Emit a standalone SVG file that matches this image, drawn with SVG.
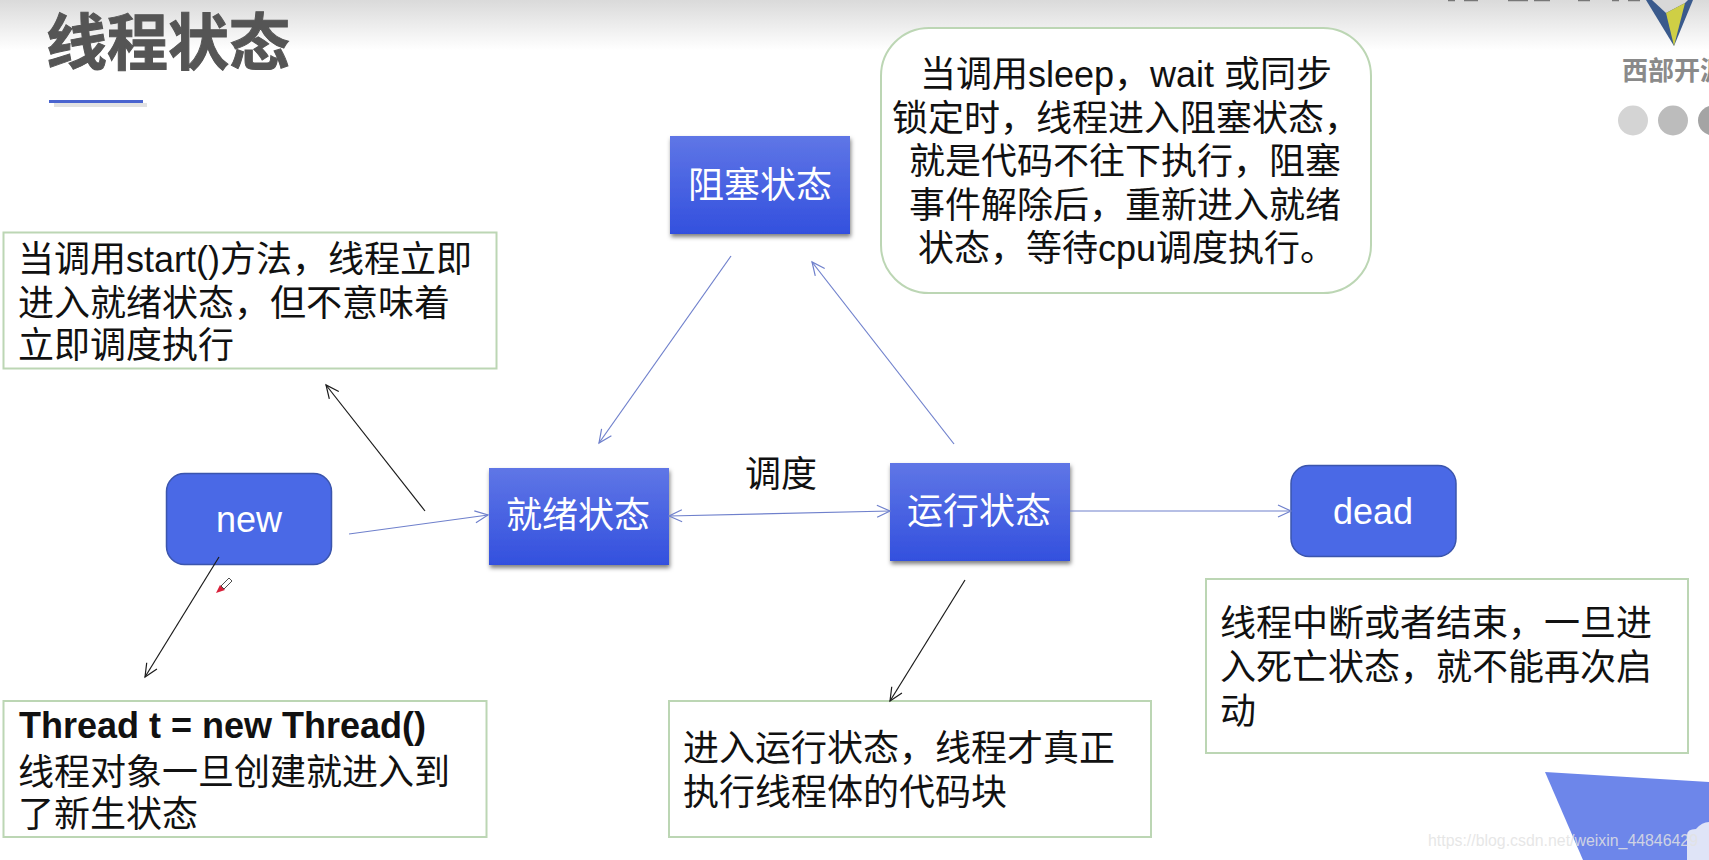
<svg xmlns="http://www.w3.org/2000/svg" width="1709" height="860" viewBox="0 0 1709 860">
<style>
text{font-family:"Liberation Sans","Noto Sans CJK SC",sans-serif}
.t{font-size:36px;fill:#111}
.n{font-size:36px;fill:#fff;text-anchor:middle}
.box{fill:#fff;stroke:#bcd6b4;stroke-width:2}
.rect{fill:url(#g);filter:url(#s)}
.round{fill:#4a69e6;stroke:#3b55ad;stroke-width:1.5}
.b{fill:none;stroke:#6f80cc;stroke-width:1.2;marker-end:url(#mb)}
.k{fill:none;stroke:#1a1a1a;stroke-width:1.2;marker-end:url(#mk)}
</style>
<defs>
<linearGradient id="top" x1="0" y1="0" x2="0" y2="1"><stop offset="0" stop-color="#dadada"/><stop offset="1" stop-color="#fff"/></linearGradient>
<linearGradient id="g" x1="0" y1="0" x2="0" y2="1"><stop offset="0" stop-color="#5f76e6"/><stop offset="1" stop-color="#3350de"/></linearGradient>
<filter id="s" x="-10%" y="-10%" width="120%" height="125%"><feDropShadow dx="1" dy="3" stdDeviation="2" flood-color="#000" flood-opacity=".5"/></filter>
<marker id="mb" markerWidth="16" markerHeight="16" refX="14" refY="7" orient="auto-start-reverse" markerUnits="userSpaceOnUse"><path d="M1 1L14 7L1 13" fill="none" stroke="#6f80cc" stroke-width="1.2"/></marker>
<marker id="mk" markerWidth="16" markerHeight="16" refX="14" refY="7" orient="auto" markerUnits="userSpaceOnUse"><path d="M1 1L14 7L1 13" fill="none" stroke="#1a1a1a" stroke-width="1.2"/></marker>
</defs>
<rect width="1709" height="860" fill="#fff"/>
<rect width="1709" height="50" fill="url(#top)"/>
<g id="logo">
<path d="M1448,0.500H1640" stroke="#777" stroke-width="1.500" stroke-dasharray="7 9 14 30 20 6 16 28 12 22" fill="none"/>
<polygon points="1646,0 1693,0 1674,46" fill="#3a5a8c"/>
<polygon points="1652,0 1666,13 1685,3 1688,0" fill="#d8d8d8"/>
<polygon points="1666,13 1685,3 1674,46" fill="#cfcf45"/>
<text x="1622" y="80" font-size="26" font-weight="700" fill="#8a8a8a">西部开源</text>
<circle cx="1633" cy="120.500" r="15" fill="#d4d4d4"/>
<circle cx="1673" cy="120.500" r="15" fill="#bcbcbc"/>
<circle cx="1713" cy="120.500" r="15" fill="#a4a4a4"/>
</g>
<g id="title">
<text x="46" y="65" font-size="61" font-weight="700" fill="#555" stroke="#555" stroke-width="1">线程状态</text>
<rect x="49" y="100" width="94" height="3" fill="#4a64cf"/>
<rect x="54" y="103" width="93" height="4" fill="#e2e2e2"/>
</g>
<g id="deco">
<polygon points="1545,772 1709,782 1709,860 1583,860" fill="#6d86ea"/>
<path d="M1687,860V835Q1687,829 1696,829Q1702,822 1709,822V860Z" fill="#dfe4f7"/>
</g>
<g id="node-blocked"><rect class="rect" x="670" y="136" width="180" height="98"/><text class="n" x="760" y="198">阻塞状态</text></g>
<g id="node-ready"><rect class="rect" x="489" y="468" width="180" height="97"/><text class="n" x="578" y="528">就绪状态</text></g>
<g id="node-running"><rect class="rect" x="890" y="463" width="180" height="98"/><text class="n" x="979" y="524">运行状态</text></g>
<g id="node-new"><rect class="round" x="166.500" y="473.500" width="165" height="91" rx="18"/><text class="n" x="249" y="532">new</text></g>
<g id="node-dead"><rect class="round" x="1291" y="465.500" width="165" height="91" rx="18"/><text class="n" x="1373" y="524">dead</text></g>
<g id="label-schedule"><text class="t" x="745" y="487">调度</text></g>
<g id="note-start"><rect class="box" x="3.500" y="232.500" width="493" height="136"/>
<text class="t" x="18" y="272">当调用start()方法，线程立即</text><text class="t" x="18" y="316">进入就绪状态，但不意味着</text><text class="t" x="18" y="358">立即调度执行</text></g>
<g id="note-new"><rect class="box" x="3.500" y="701" width="483" height="136"/>
<text class="t" x="19" y="738" font-weight="700">Thread t = new Thread()</text><text class="t" x="18" y="785">线程对象一旦创建就进入到</text><text class="t" x="18" y="827">了新生状态</text></g>
<g id="note-run"><rect class="box" x="669" y="701" width="482" height="136"/>
<text class="t" x="683" y="761">进入运行状态，线程才真正</text><text class="t" x="683" y="805">执行线程体的代码块</text></g>
<g id="note-dead"><rect class="box" x="1206" y="579" width="482" height="174"/>
<text class="t" x="1220" y="636">线程中断或者结束，一旦进</text><text class="t" x="1220" y="680">入死亡状态，就不能再次启</text><text class="t" x="1220" y="724">动</text></g>
<g id="note-blocked"><rect class="box" x="881" y="28" width="490" height="265" rx="48"/>
<text class="t" x="920" y="87">当调用sleep，wait 或同步</text><text class="t" x="892" y="131">锁定时，线程进入阻塞状态，</text><text class="t" x="909" y="174">就是代码不往下执行，阻塞</text><text class="t" x="909" y="218">事件解除后，重新进入就绪</text><text class="t" x="918" y="261">状态，等待cpu调度执行。</text></g>
<g id="connectors">
<line class="b" x1="349" y1="534" x2="488" y2="515"/>
<line class="b" x1="669" y1="516" x2="890" y2="511" marker-start="url(#mb)"/>
<line class="b" x1="1070" y1="511" x2="1291" y2="511"/>
<line class="b" x1="731" y1="256" x2="599" y2="443"/>
<line class="b" x1="954" y1="444" x2="812" y2="262"/>
<line class="k" x1="425" y1="511" x2="326" y2="385"/>
<line class="k" x1="219" y1="557" x2="145" y2="677"/>
<line class="k" x1="965" y1="580" x2="890" y2="701"/>
</g>
<g id="cursor">
<path d="M216,593L220,585L225,590Z" fill="#d8213a"/>
<path d="M221,586L229,578L232,581L224,589Z" fill="#fff" stroke="#222" stroke-width=".8"/>
</g>
<text id="watermark" x="1428" y="846" font-size="16" textLength="270" lengthAdjust="spacingAndGlyphs" fill="#e2e2e2" fill-opacity=".85">https://blog.csdn.net/weixin_44846429</text>
</svg>
